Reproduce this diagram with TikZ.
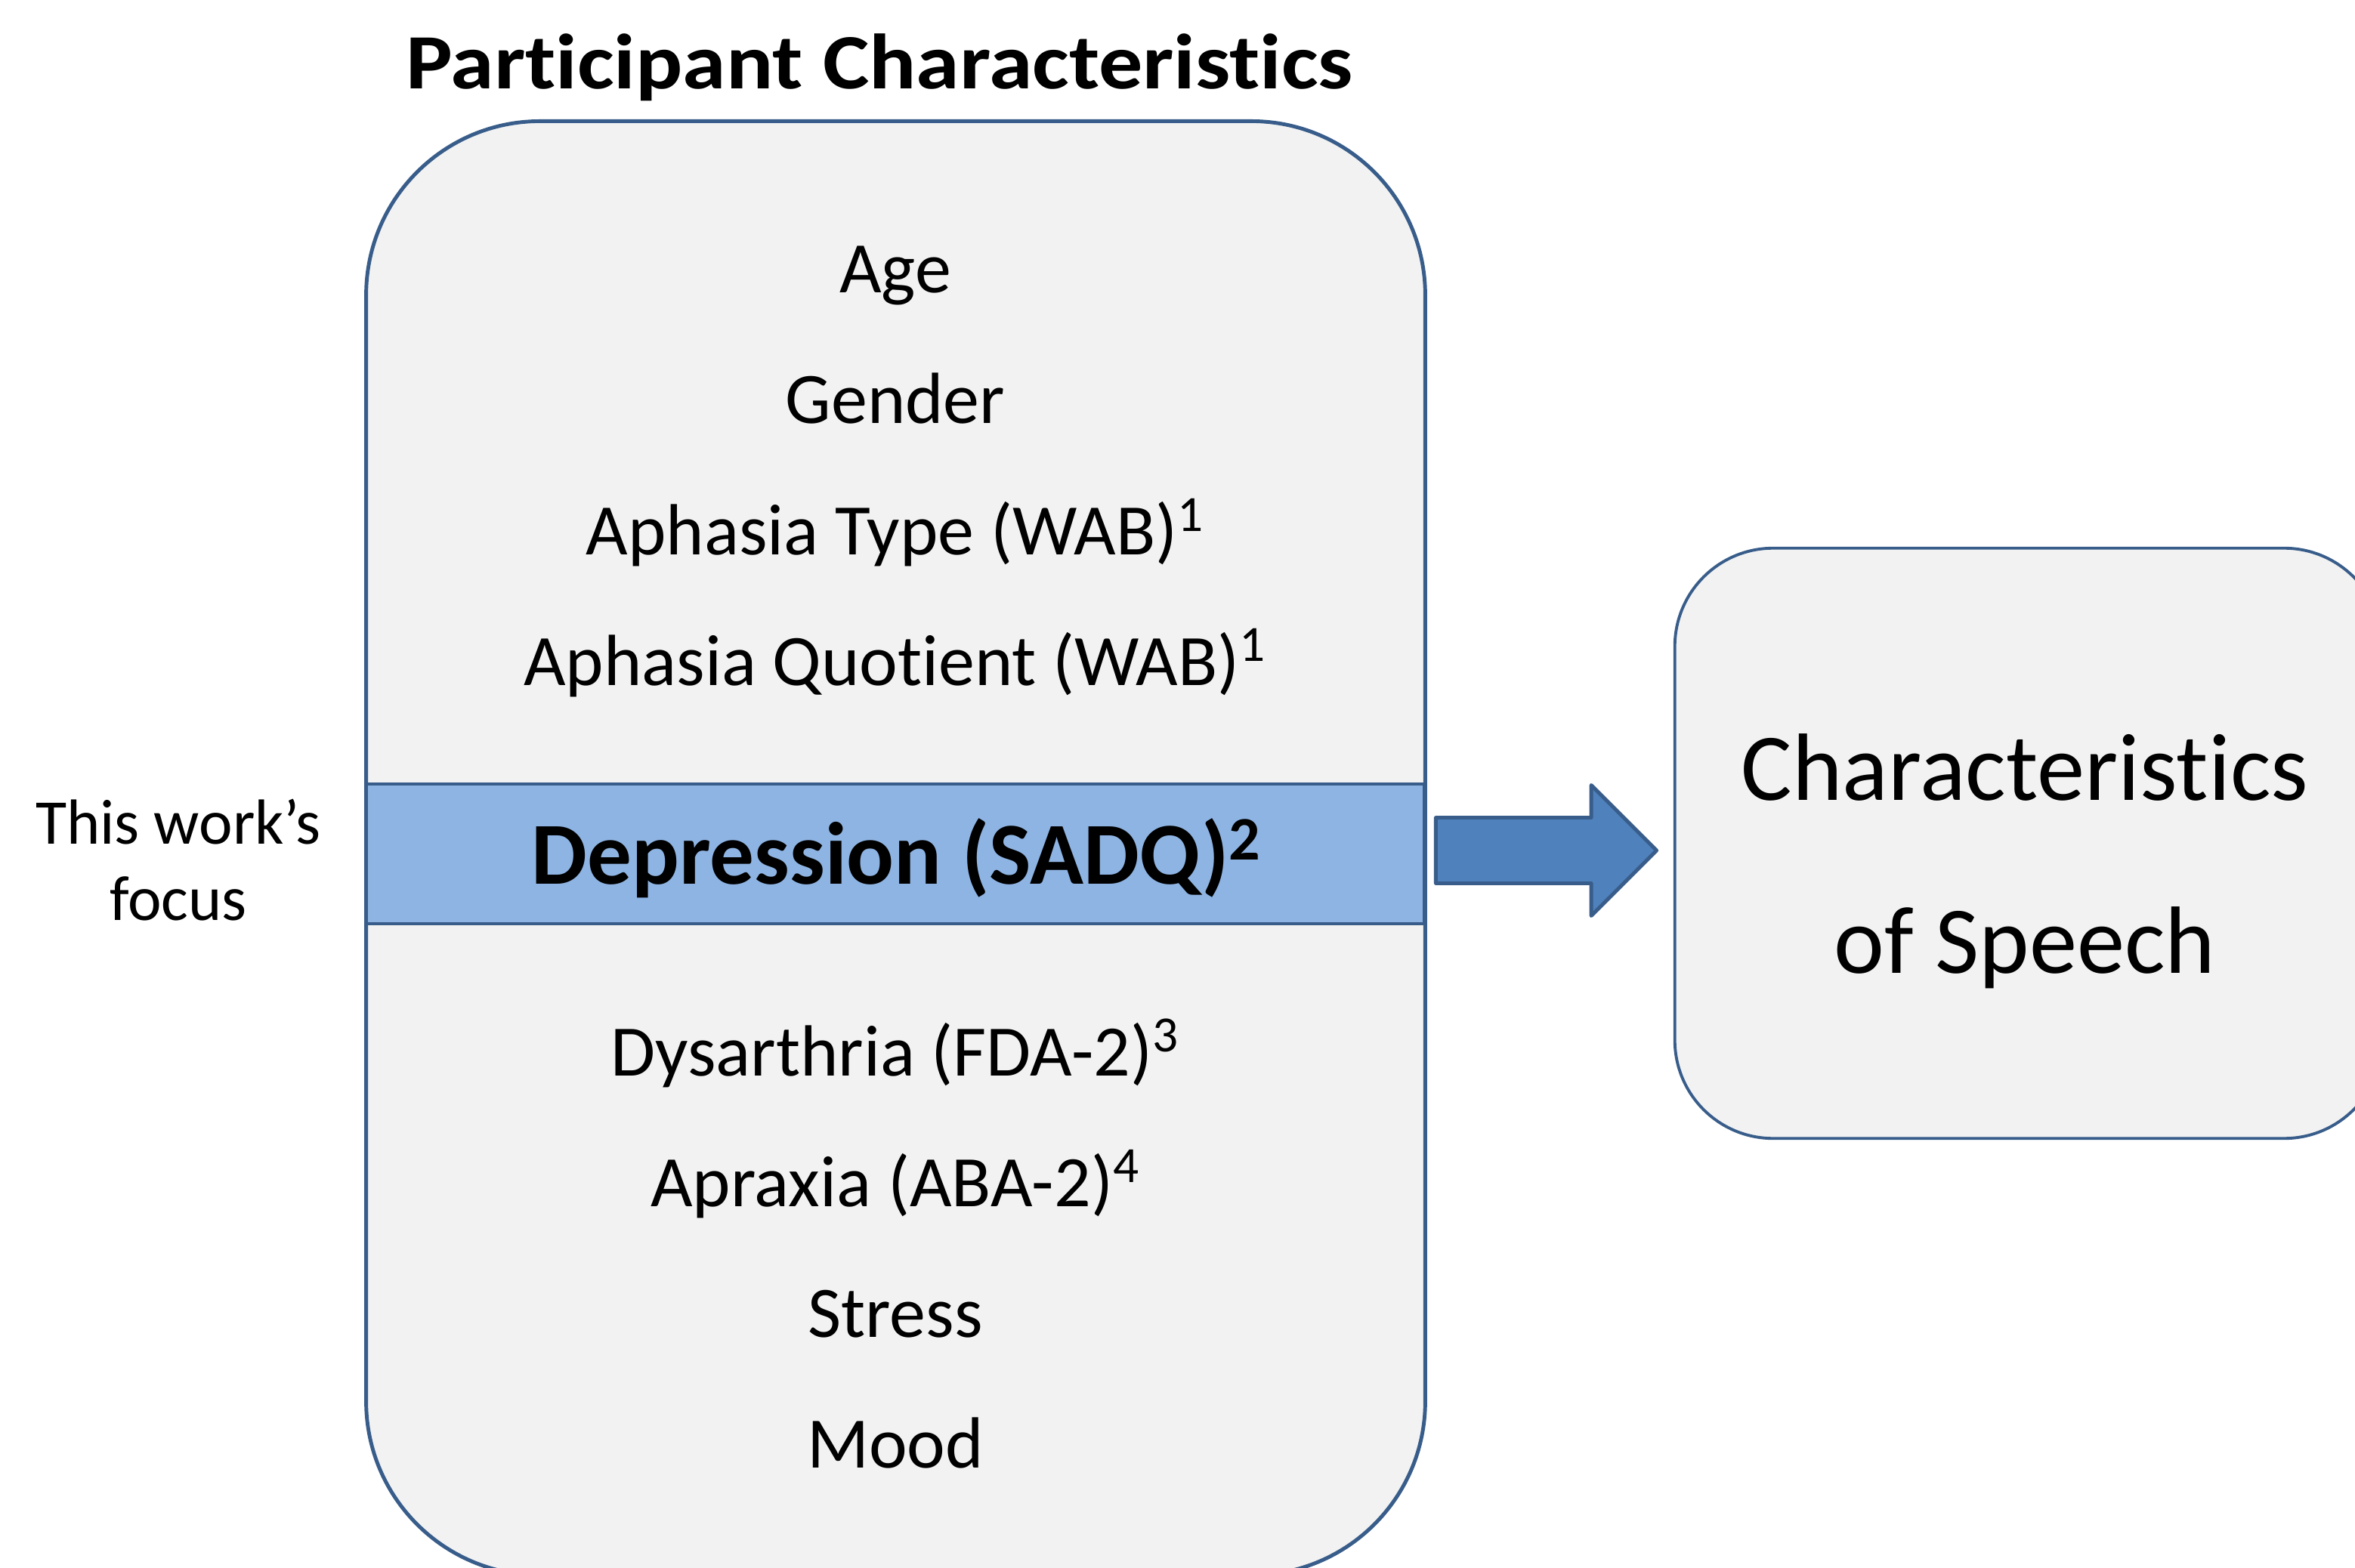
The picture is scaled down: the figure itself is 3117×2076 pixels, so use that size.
\documentclass[tikz,border=0pt]{standalone}
\usepackage{fontspec}
\setmainfont{Carlito}[Ligatures=NoCommon,RawFeature={-liga;-clig;-dlig;-calt}]
\newfontfamily\headfont{Carlito}[Ligatures=NoCommon,RawFeature={-liga;-clig;-dlig;-calt},FakeStretch=1.12]
\usetikzlibrary{positioning,shapes.arrows}
\definecolor{edgeblue}{RGB}{56,93,138}
\definecolor{panelgray}{RGB}{242,242,242}
\definecolor{focusblue}{RGB}{142,180,227}
\definecolor{flowblue}{RGB}{79,129,189}

\begin{document}
\begin{tikzpicture}[x=0.01cm,y=-0.01cm,line join=round,outer sep=0pt,
  item/.style={font=\fontsize{27.3}{32}\selectfont,anchor=base,inner sep=0pt},
  side/.style={font=\fontsize{24}{29}\selectfont,anchor=base,inner sep=0pt},
  big/.style={font=\fontsize{36}{42}\selectfont,anchor=base,inner sep=0pt}]
\useasboundingbox (0,0) rectangle (3117,2076);
% panels
\node[draw=edgeblue,fill=panelgray,line width=1.4pt,rounded corners=2.3cm,minimum width=14.01cm,minimum height=19.24cm] (partbox) at (1185.5,1123) {};
\node[draw=edgeblue,fill=panelgray,line width=1.1pt,rounded corners=1.3cm,minimum width=9.36cm,minimum height=7.81cm] (speechbox) at (2685,1116.5) {};
\node[draw=edgeblue,fill=focusblue,line width=1.2pt,minimum width=14.00cm,minimum height=1.85cm] (focusband) at (1185,1130.5) {};
% title
\node[font=\headfont\fontsize{29.5}{35}\selectfont\bfseries,anchor=base,inner sep=0pt] (title) at (1164,118) {Participant Characteristics};
% characteristics
\node[item] (age) at (1185,388) {Age};
\node[item] (gender) at (1185,561) {Gender};
\node[item] (atype) at (1185,735) {Aphasia Type (WAB)\textsuperscript{1}};
\node[item] (aquot) at (1185,907) {Aphasia Quotient (WAB)\textsuperscript{1}};
\node[font=\fontsize{33.3}{39}\selectfont\bfseries,anchor=base,inner sep=0pt] (depr) at (1187,1170) {Depression (SADQ)\textsuperscript{2}};
\node[item] (dysar) at (1185,1424) {Dysarthria (FDA-2)\textsuperscript{3}};
\node[item] (aprax) at (1185,1597) {Apraxia (ABA-2)\textsuperscript{4}};
\node[item] (stress) at (1185,1770) {Stress};
\node[item] (mood) at (1185,1943) {Mood};
% focus label
\node[side] (focusA) at (236,1117) {This work’s};
\node[side] (focusB) at (236,1218) {focus};
% outcome
\node[big] (speechA) at (2680,1059) {Characteristics};
\node[big] (speechB) at (2680,1288) {of Speech};
% flow
\node[single arrow,draw=edgeblue,fill=flowblue,line width=1.4pt,inner sep=0.41cm,single arrow head extend=0.43cm,minimum height=2.92cm,anchor=tail] (flow) at ([xshift=0.15cm,yshift=0.045cm]focusband.east) {};
\end{tikzpicture}
\end{document}
